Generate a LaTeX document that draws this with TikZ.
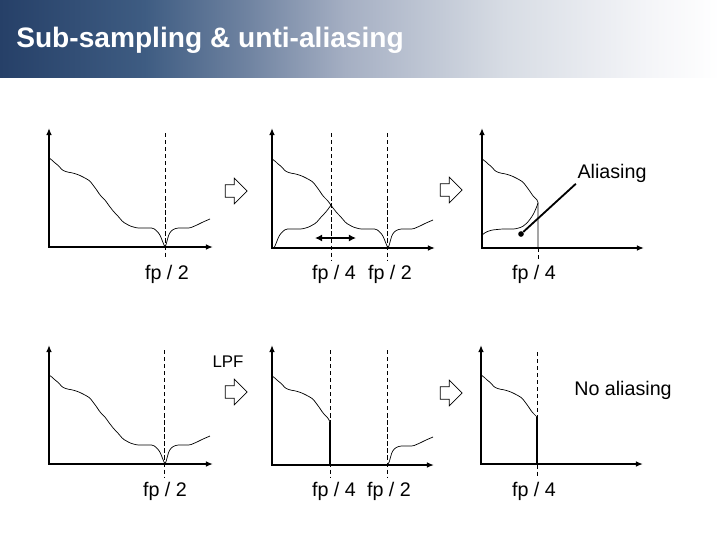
\documentclass[tikz,border=0pt]{standalone}
\usepackage{fontspec}
\setmainfont{Liberation Sans}
\usetikzlibrary{positioning,arrows.meta,shapes.arrows}

\definecolor{bannerA}{RGB}{38,64,104}
\definecolor{bannerB}{RGB}{62,92,130}
\definecolor{bannerC}{RGB}{110,130,160}
\definecolor{bannerD}{RGB}{165,175,195}
\definecolor{bannerE}{RGB}{215,220,228}
\definecolor{bannerF}{RGB}{244,245,248}
\pgfdeclarehorizontalshading{bannershade}{100bp}{color(0bp)=(bannerA); color(25bp)=(bannerA);
  color(35bp)=(bannerB); color(42bp)=(bannerC); color(49bp)=(bannerD);
  color(60bp)=(bannerE); color(70bp)=(bannerF); color(75bp)=(white); color(100bp)=(white)}

% pieces of the spectrum, height above the axis
\newcommand{\headcurve}{(0,89) -- (3,87) -- (6,84) -- (10,81) -- (13,77) -- (18,75) -- (24,74) -- (30,72)
  -- (36,69) -- (41,66) -- (44,62) -- (47,58) -- (51,52) -- (54,49) -- (56,47)}
\newcommand{\midcurve}{-- (61,40) -- (65,35) -- (68,32) -- (74,25) -- (81,21) -- (88,19) -- (104,19)
  -- (108,16) -- (111,12) -- (113,7) -- (115,2) -- (116,0)}
\newcommand{\tailcurve}{-- (117,2) -- (118,6) -- (120,13) -- (123,17) -- (128,19) -- (141,19)
  -- (148,22) -- (154,25) -- (161,28)}

\tikzset{
  axis/.style={line width=1.2pt,{Latex[length=5pt,width=4pt]}-{Latex[length=5pt,width=4pt]}},
  spec/.style={line width=0.5pt,rounded corners=1pt},
  cut/.style={line width=0.5pt,dash pattern=on 3pt off 2pt},
  edgeline/.style={line width=1.2pt},
  lbl/.style={font=\fontsize{14}{16}\selectfont,inner sep=1pt,anchor=base},
  hollow/.style={draw,single arrow,single arrow head extend=4.6pt,minimum height=15.6pt,
    inner xsep=0pt,inner ysep=4.25pt,line width=0.5pt},
  dotmark/.style={circle,fill,inner sep=0pt,minimum size=4pt},
}

\begin{document}
\begin{tikzpicture}[x=0.025cm,y=-0.025cm]
\useasboundingbox (0,0) rectangle (720,540);
\shade[shading=bannershade] (0,0) rectangle (720,77);
\node[anchor=base west,text=white,font=\fontsize{20}{23}\selectfont\bfseries,inner sep=0pt] (title) at (16,47) {Sub-sampling \& unti-aliasing};

% top row
\begin{scope}[shift={(49,247)},yscale=-1]
  \draw[axis] (0,119) -- (0,0) -- (164,0);
  \draw[cut] (116,114) -- (116,-10);
  \draw[spec] \headcurve \midcurve \tailcurve;
\end{scope}
\begin{scope}[shift={(272,248)},yscale=-1]
  \draw[axis] (0,120) -- (0,0) -- (163,0);
  \draw[cut] (59,115) -- (59,-12);
  \draw[cut] (115,115) -- (115,-12);
  \draw[spec] \headcurve \midcurve \tailcurve;
  \draw[spec,shift={(118,0)},xscale=-1] (59,43) \midcurve;
\end{scope}
\begin{scope}[shift={(482,248)},yscale=-1]
  \draw[axis] (0,120) -- (0,0) -- (162,0);
  \draw[cut] (56,0) -- (56,-12);
  \draw[spec] \headcurve -- (56,0);
  \draw[spec] (0,13) -- (4,16) -- (10,18) -- (20,19) -- (33,19) -- (40,21) -- (45,25) -- (49,30)
    -- (52,35) -- (55,42) -- (56,45);
\end{scope}

\coordinate (sL) at (315,238);
\coordinate (sR) at (356,238);
\draw[line width=1.2pt,{Latex[length=5pt,width=5pt]}-{Latex[length=5pt,width=5pt]}] (sL) -- (sR);

\node[hollow] (arr1) at (233,191) {};
\node[hollow] (arr2) at (448,190) {};

\node[lbl] (alias) at (612,178) {Aliasing};
\node[dotmark] (dot) at (521,234) {};
\draw[line width=1.3pt] (alias.south west) -- (dot);

\node[lbl] (t1) at (167,279) {fp / 2};
\node[lbl] (t2) at (334,279) {fp / 4};
\node[lbl] (t3) at (390,279) {fp / 2};
\node[lbl] (t4) at (534,279) {fp / 4};

% bottom row
\node[lbl,font=\fontsize{12}{14}\selectfont] (lpf) at (228,367) {LPF};
\node[hollow] (arr3) at (233,392) {};
\node[hollow] (arr4) at (448,393) {};
\node[lbl] (noalias) at (623,395) {No aliasing};

\begin{scope}[shift={(49,464)},yscale=-1]
  \draw[axis] (0,119) -- (0,0) -- (164,0);
  \draw[cut] (115,114) -- (115,-13);
  \draw[spec] \headcurve \midcurve \tailcurve;
\end{scope}
\begin{scope}[shift={(272,465)},yscale=-1]
  \draw[axis] (0,120) -- (0,0) -- (162,0);
  \draw[cut] (58,115) -- (58,-12);
  \draw[cut] (115,115) -- (115,-12);
  \draw[spec] \headcurve -- (58,43);
  \draw[edgeline] (58,43) -- (58,0);
  \draw[spec] (115,0) \tailcurve;
\end{scope}
\begin{scope}[shift={(481,464)},yscale=-1]
  \draw[axis] (0,119) -- (0,0) -- (162,0);
  \draw[cut] (56,112) -- (56,-14);
  \draw[spec] \headcurve;
  \draw[edgeline] (56,47) -- (56,0);
\end{scope}

\node[lbl] (b1) at (165,496) {fp / 2};
\node[lbl] (b2) at (334,496) {fp / 4};
\node[lbl] (b3) at (389,496) {fp / 2};
\node[lbl] (b4) at (534,496) {fp / 4};
\end{tikzpicture}
\end{document}
